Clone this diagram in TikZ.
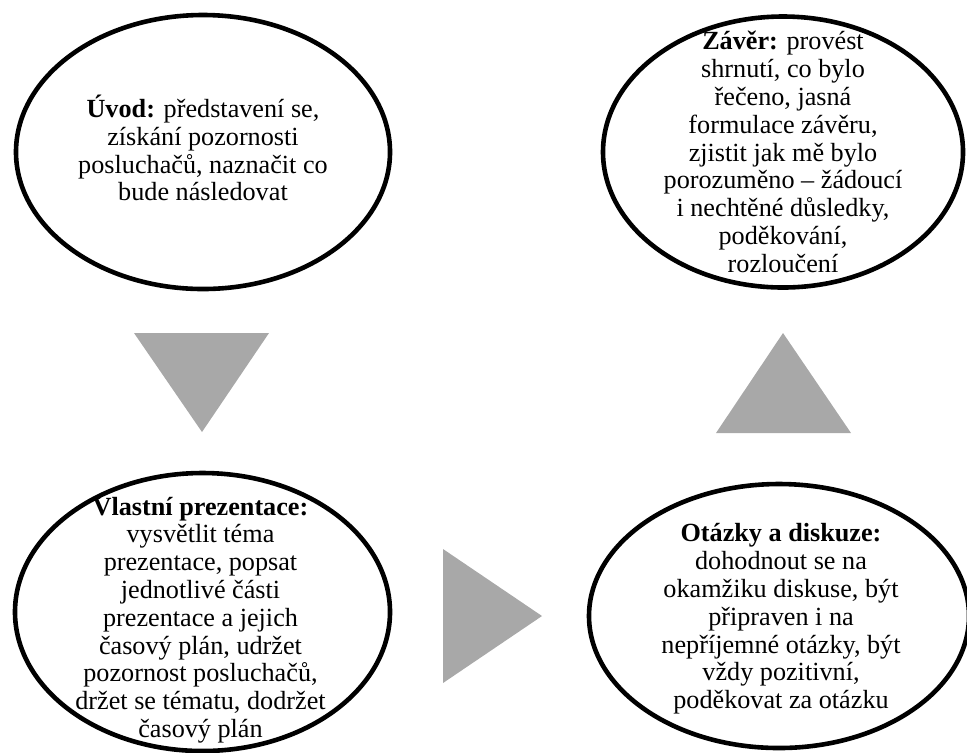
\documentclass[tikz,border=0pt]{standalone}
\usepackage{fontspec}
\setmainfont{Liberation Serif}
\usetikzlibrary{shapes.geometric}
\definecolor{trigray}{RGB}{168,168,168}
\tikzset{
  oval/.style={draw=black, line width=2.3pt, ellipse, inner sep=0pt},
  ovaltext/.style={align=center, inner sep=0pt, font=\fontsize{13.1pt}{13.9pt}\selectfont},
  tri/.style={fill=trigray, draw=none}
}
\begin{document}
\begin{tikzpicture}[x=0.5pt,y=-0.5pt]
\useasboundingbox (0,0) rectangle (967,752);
\clip (0,0) rectangle (967,752);
% ellipses
\node[oval, minimum width=187pt, minimum height=137pt] (uvod) at (203,152) {};
\node[oval, minimum width=180pt, minimum height=135.5pt] (zaver) at (783,152) {};
\node[oval, minimum width=187.5pt, minimum height=139pt] (vlastni) at (202.5,612) {};
\node[oval, minimum width=190pt, minimum height=132pt] (otazky) at (779,616) {};
% texts
\node[ovaltext, yshift=2pt] (uvodtext) at (uvod.center) {\textbf{Úvod:} představení se,\\ získání pozornosti\\ posluchačů, naznačit co\\ bude následovat};
\node[ovaltext] (zavertext) at (zaver.center) {\textbf{Závěr:} provést\\ shrnutí, co bylo\\ řečeno, jasná\\ formulace závěru,\\ zjistit jak mě bylo\\ porozuměno – žádoucí\\ i nechtěné důsledky,\\ poděkování,\\ rozloučení};
\node[ovaltext, xshift=-1pt, yshift=-4pt] (vlastnitext) at (vlastni.center) {\textbf{Vlastní prezentace:}\\ vysvětlit téma\\ prezentace, popsat\\ jednotlivé části\\ prezentace a jejich\\ časový plán, udržet\\ pozornost posluchačů,\\ držet se tématu, dodržet\\ časový plán};
\node[ovaltext, xshift=1pt, yshift=-1.5pt] (otazkytext) at (otazky.center) {\textbf{Otázky a diskuze:}\\ dohodnout se na\\ okamžiku diskuse, být\\ připraven i na\\ nepříjemné otázky, být\\ vždy pozitivní,\\ poděkovat za otázku};
% triangles
\fill[tri] (134,333) -- (269,333) -- (202,432) -- cycle;
\fill[tri] (443,549) -- (542,616) -- (443,683) -- cycle;
\fill[tri] (716,433) -- (783,333) -- (851,433) -- cycle;
\end{tikzpicture}
\end{document}
